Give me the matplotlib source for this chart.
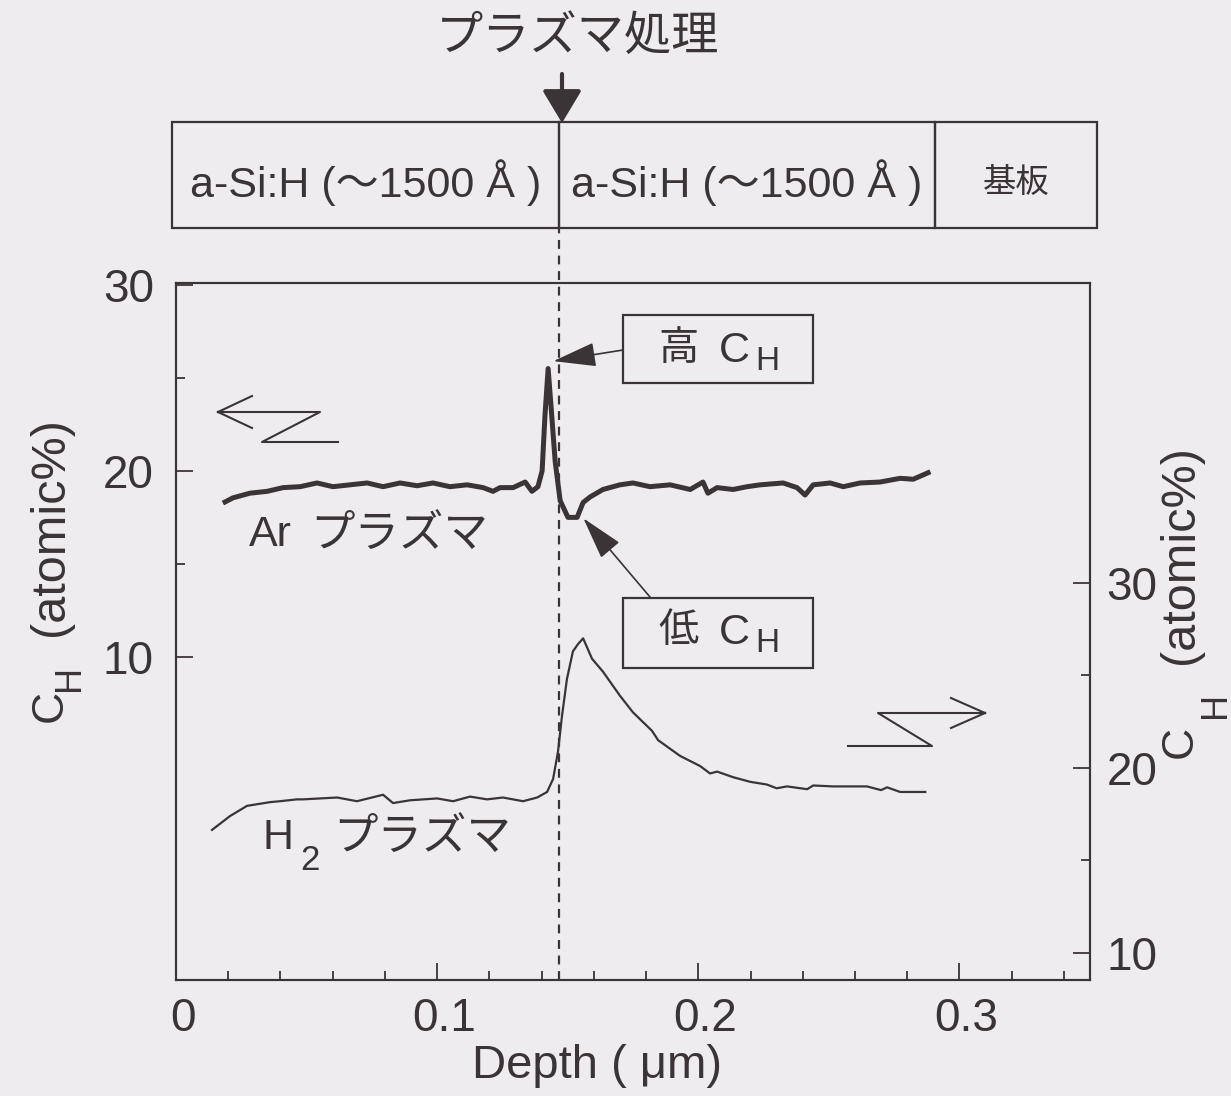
import matplotlib

matplotlib.use("Agg")

import matplotlib.pyplot as plt
import matplotlib.transforms as mtransforms
from matplotlib.lines import Line2D
from matplotlib.patches import FancyArrowPatch, Rectangle

plt.rcParams["font.family"] = ["Liberation Sans", "Noto Sans CJK JP"]

INK = "#3a3436"
BG = "#eeecef"
W, H = 1231, 1096

# Ar plasma treated film: depth (um) vs C_H (atomic%), left axis
ar_depth = [0.0188, 0.0218, 0.0283, 0.0349, 0.0410, 0.0475, 0.0540, 0.0601,
            0.0666, 0.0732, 0.0793, 0.0858, 0.0923, 0.0984, 0.1049, 0.1115,
            0.1176, 0.1214, 0.1241, 0.1291, 0.1337, 0.1363, 0.1386, 0.1402,
            0.1413, 0.1425, 0.1436, 0.1452, 0.1471, 0.1501, 0.1536, 0.1559,
            0.1586, 0.1635, 0.1700, 0.1750, 0.1815, 0.1892, 0.1969, 0.2018,
            0.2037, 0.2072, 0.2133, 0.2187, 0.2237, 0.2325, 0.2378, 0.2409,
            0.2440, 0.2505, 0.2555, 0.2620, 0.2696, 0.2773, 0.2823, 0.2880]
ar_ch = [18.33, 18.55, 18.8, 18.9, 19.1, 19.15, 19.35, 19.15,
         19.25, 19.35, 19.15, 19.35, 19.2, 19.35, 19.15, 19.25,
         19.1, 18.9, 19.1, 19.1, 19.4, 18.9, 19.15, 20.0,
         23.0, 25.5, 23.5, 20.5, 18.4, 17.5, 17.5, 18.3,
         18.6, 19.0, 19.25, 19.35, 19.15, 19.25, 19.0, 19.4,
         18.8, 19.1, 19.0, 19.15, 19.25, 19.35, 19.1, 18.7,
         19.25, 19.35, 19.15, 19.35, 19.4, 19.6, 19.55, 19.9]

# H2 plasma treated film: depth (um) vs C_H (atomic%), right axis
h2_depth = [0.0138, 0.0207, 0.0272, 0.0360, 0.0398, 0.0463, 0.0486, 0.0617,
            0.0693, 0.0793, 0.0831, 0.0896, 0.1000, 0.1061, 0.1126, 0.1191,
            0.1252, 0.1329, 0.1383, 0.1421, 0.1444, 0.1463, 0.1478, 0.1497,
            0.1520, 0.1540, 0.1559, 0.1593, 0.1635, 0.1700, 0.1750, 0.1823,
            0.1846, 0.1930, 0.2007, 0.2045, 0.2072, 0.2133, 0.2198, 0.2263,
            0.2300, 0.2340, 0.2417, 0.2440, 0.2516, 0.2646, 0.2700, 0.2723,
            0.2773, 0.2869]
h2_ch = [16.65, 17.4, 17.95, 18.15, 18.2, 18.3, 18.3, 18.4,
         18.2, 18.55, 18.1, 18.25, 18.35, 18.2, 18.45, 18.3,
         18.4, 18.2, 18.4, 18.7, 19.4, 20.9, 22.8, 24.8,
         26.3, 26.7, 27.0, 25.9, 25.2, 23.9, 23.0, 22.0,
         21.5, 20.65, 20.1, 19.7, 19.8, 19.5, 19.25, 19.1,
         18.9, 19.0, 18.85, 19.05, 19.0, 19.0, 18.8, 18.95,
         18.7, 18.7]

x_major = [0, 0.1, 0.2, 0.3]
x_labels = ["0", "0.1", "0.2", "0.3"]
x_minor = [0.02, 0.04, 0.06, 0.08, 0.12, 0.14, 0.16, 0.18,
           0.22, 0.24, 0.26, 0.28, 0.32, 0.34]
y_major = [10, 20, 30]
y_minor = [15, 25]

interface_depth = 0.1465
layer_edges = [-0.0015, 0.1465, 0.2905, 0.3527]
layer_labels = ["a-Si:H (～1500 Å )", "a-Si:H (～1500 Å )", "基板"]


def fp(px, py):
    """pixel position -> figure fraction"""
    return px / W, 1 - py / H


def ftext(px, py, s, size, **kw):
    kw.setdefault("ha", "center")
    kw.setdefault("va", "center")
    return fig.text(*fp(px, py), s, fontsize=size, color=INK, **kw)


fig = plt.figure(figsize=(W / 100, H / 100), dpi=100, facecolor=BG)
ax = fig.add_axes([176 / W, 1 - 980 / H, (1090 - 176) / W, (980 - 283) / H])
ax.set_facecolor("none")
ax2 = ax.twinx()

ax.plot(ar_depth, ar_ch, color=INK, lw=3.6, solid_joinstyle="round", zorder=3)
ax2.plot(h2_depth, h2_ch, color=INK, lw=1.6, solid_joinstyle="round", zorder=3)

ax.set_xlim(0, 0.35)
ax.set_ylim(-7.37, 30.1)
ax2.set_ylim(8.54, 46.2)

ax.set_xticks(x_major)
ax.set_xticks(x_minor, minor=True)
ax.set_xticklabels(x_labels)
ax.set_yticks(y_major)
ax.set_yticks(y_minor, minor=True)
ax2.set_yticks(y_major)
ax2.set_yticks(y_minor, minor=True)

for a in (ax, ax2):
    for s in a.spines.values():
        s.set_color(INK)
        s.set_linewidth(1.5)
    a.tick_params(which="both", direction="in", color=INK, width=1.3,
                  labelcolor=INK, labelsize=33)
    a.tick_params(which="major", length=12)
    a.tick_params(which="minor", length=6.5)
ax.tick_params(axis="x", pad=12, top=False)
ax.tick_params(axis="y", pad=16, right=False)
ax2.tick_params(axis="y", pad=12)

# depth labels sit a little right of their ticks
shift = mtransforms.ScaledTranslation(7 / 100, 0, fig.dpi_scale_trans)
for lbl in ax.get_xticklabels():
    lbl.set_transform(lbl.get_transform() + shift)

# interface marker through the plot and the layer diagram
xt = ax.get_xaxis_transform()
ax.plot([interface_depth, interface_depth], [0, 1.079], transform=xt,
        color=INK, lw=1.6, ls=(0, (4, 3)), clip_on=False, zorder=2)

# layer diagram above the axes
box_bottom, box_top = 1.079, 1.231
for left, right, label in zip(layer_edges[:-1], layer_edges[1:], layer_labels):
    ax.add_patch(Rectangle((left, box_bottom), right - left, box_top - box_bottom,
                           transform=xt, fill=False, ec=INK, lw=1.6, clip_on=False))
    size = 24 if label == "基板" else 31
    ax.text((left + right) / 2, 1.1435, label, transform=xt, ha="center",
            va="center", fontsize=size, color=INK)

ftext(578, 38, "プラズマ処理", 34)
fig.patches.append(FancyArrowPatch(fp(562, 74), fp(562, 123),
                                   transform=fig.transFigure,
                                   arrowstyle="-|>,head_length=1.0,head_width=0.6",
                                   mutation_scale=20, color=INK, lw=3,
                                   shrinkA=0, shrinkB=0))

# axis titles
ftext(597, 1066, "Depth ( μm)", 34)
ftext(50, 706, "C", 32, rotation=90)
ftext(70, 678, "H", 26, rotation=90)
ftext(50, 527, "(atomic%)", 35, rotation=90)
ftext(1180, 742, "C", 32, rotation=90)
ftext(1215, 705, "H", 26, rotation=90)
ftext(1180, 555, "(atomic%)", 35, rotation=90)

# curve labels
ftext(249, 535, "Ar", 31, ha="left")
ftext(310, 535, "プラズマ", 32, ha="left")
ftext(263, 838, "H", 31, ha="left")
ftext(300, 860, "2", 25, ha="left")
ftext(333, 838, "プラズマ", 32, ha="left")

# callout boxes for the high / low C_H regions
for (bx0, by0, bx1, by1), kanji, cy in [((623, 315, 813, 383), "高", 349),
                                        ((623, 598, 813, 668), "低", 631)]:
    x0, y0 = fp(bx0, by1)
    x1, y1 = fp(bx1, by0)
    fig.patches.append(Rectangle((x0, y0), x1 - x0, y1 - y0,
                                 transform=fig.transFigure, fill=False,
                                 ec=INK, lw=1.6))
    ftext(678, cy, kanji, 29)
    ftext(734, cy + 2, "C", 31)
    ftext(767, cy + 12, "H", 24)

arrow_kw = dict(arrowstyle="-|>,head_length=1.35,head_width=0.38",
                mutation_scale=20, color=INK, lw=1.2, shrinkA=0, shrinkB=0)
ax.annotate("", xy=(0.1445, 25.9), xycoords="data",
            xytext=fp(623, 350), textcoords="figure fraction",
            arrowprops=arrow_kw)
ax.annotate("", xy=(0.1560, 17.45), xycoords="data",
            xytext=fp(650, 597), textcoords="figure fraction",
            arrowprops=arrow_kw)


# Z-shaped arrows telling which axis each curve belongs to
def z_arrow(pts, head):
    xs, ys = zip(*[fp(*p) for p in pts])
    fig.lines.append(Line2D(xs, ys, transform=fig.transFigure, color=INK,
                            lw=1.5))
    tip = pts[-1]
    for hp in head:
        xs, ys = zip(fp(*hp), fp(*tip))
        fig.lines.append(Line2D(xs, ys, transform=fig.transFigure, color=INK,
                                lw=1.5))


z_arrow([(338, 442), (262, 442), (320, 412), (218, 412)],
        [(252, 396), (252, 428)])
z_arrow([(848, 746), (932, 746), (878, 713), (985, 713)],
        [(951, 698), (951, 728)])

fig.savefig("out.png", dpi=100, facecolor=fig.get_facecolor())
